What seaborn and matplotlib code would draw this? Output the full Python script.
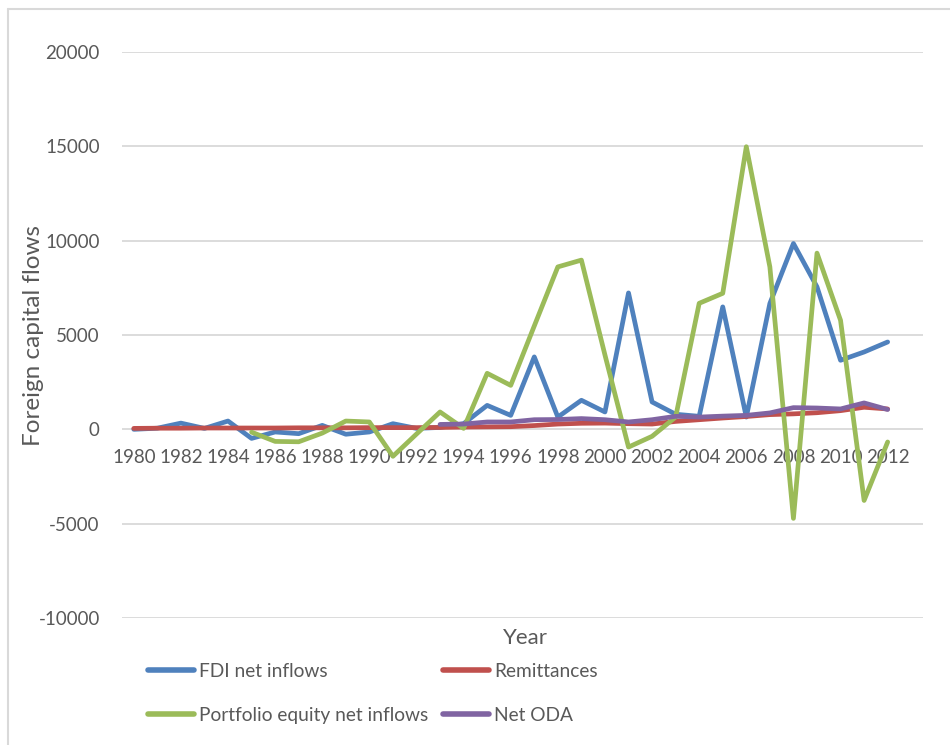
import numpy as np
import pandas as pd
import matplotlib
matplotlib.use("Agg")
import matplotlib.pyplot as plt
from matplotlib.lines import Line2D
import seaborn as sns

# data
years = list(range(1980, 2013))
fdi = [0, 60, 330, 50, 440, -480, -140, -230, 210, -260, -140, 300, 50, 100, 300,
       1270, 740, 3840, 650, 1540, 920, 7230, 1450, 800, 690, 6490, 650, 6670,
       9850, 7550, 3660, 4100, 4630]
remittances = [50, 60, 60, 70, 70, 70, 70, 80, 80, 80, 90, 90, 90, 100, 120, 130,
               140, 200, 280, 320, 330, 300, 280, 420, 510, 600, 680, 780, 820,
               880, 990, 1170, 1080]
portfolio = [np.nan] * 5 + [-150, -640, -660, -200, 440, 390, -1430, -250, 920, 50,
                            2970, 2330, 5480, 8610, 8970, 3940, -940, -370, 650,
                            6680, 7210, 14980, 8610, -4720, 9340, 5780, -3770, -670]
net_oda = [np.nan] * 13 + [260, 280, 390, 390, 510, 520, 570, 510, 390, 510, 690,
                           650, 700, 740, 870, 1150, 1130, 1080, 1400, 1050]

series = ["FDI net inflows", "Remittances", "Portfolio equity net inflows", "Net ODA"]
colors = ["#4F81BD", "#C0504D", "#9BBB59", "#8064A2"]

df = pd.DataFrame({"Year": years,
                   series[0]: fdi,
                   series[1]: remittances,
                   series[2]: portfolio,
                   series[3]: net_oda})
long = df.melt(id_vars="Year", var_name="series", value_name="value").dropna()

sns.set_style("white")
plt.rcParams["font.family"] = ["Lato", "DejaVu Sans"]
plt.rcParams["axes.unicode_minus"] = False
grey = "#595959"

fig = plt.figure(figsize=(9.5, 7.45), dpi=100)
ax = fig.add_axes([122 / 950, 1 - 618 / 745, 801 / 950, 566 / 745])

sns.lineplot(data=long, x="Year", y="value", hue="series", hue_order=series,
             palette=colors, linewidth=3.4, ax=ax, sort=True,
             solid_capstyle="round", solid_joinstyle="round")

ax.set_xlim(1979.5, 2013.5)
ax.set_ylim(-10000, 20000)
ax.set_yticks(range(-10000, 20001, 5000))
ax.set_xticks(range(1980, 2013, 2))
ax.set_xticklabels([str(y) for y in range(1980, 2013, 2)])
ax.grid(axis="y", color="#D9D9D9", linewidth=1.3)
ax.set_axisbelow(True)
for s in ax.spines.values():
    s.set_visible(False)
ax.spines["bottom"].set_position(("data", 0))
ax.tick_params(axis="x", length=0, pad=14, labelsize=13.5, labelcolor=grey)
ax.tick_params(axis="y", length=0, pad=16, labelsize=13.5, labelcolor=grey)

ax.set_ylabel("Foreign capital flows", fontsize=17.5, color=grey)
ax.yaxis.set_label_coords(-0.097, 0.5)
ax.set_xlabel("Year", fontsize=16, color=grey)
ax.xaxis.set_label_coords(0.504, -0.017)

handles, labels = ax.get_legend_handles_labels()
ax.get_legend().remove()
order = [0, 2, 1, 3]
leg = fig.legend([handles[i] for i in order], [labels[i] for i in order],
                 ncol=2, frameon=False, loc="center left",
                 bbox_to_anchor=(148 / 950, 1 - 693.5 / 745),
                 fontsize=13.8, handlelength=2.4, handletextpad=0.25,
                 columnspacing=0.8, labelspacing=1.4, borderpad=0, borderaxespad=0)
for t in leg.get_texts():
    t.set_color(grey)
for h in leg.get_lines():
    h.set_linewidth(4)
    h.set_solid_capstyle("round")

# chart frame (top and left edges visible)
fig.add_artist(Line2D([8 / 950, 8 / 950], [0, 1 - 9 / 745], transform=fig.transFigure,
                      color="#D9D9D9", linewidth=1.5))
fig.add_artist(Line2D([8 / 950, 1], [1 - 9 / 745, 1 - 9 / 745], transform=fig.transFigure,
                      color="#D9D9D9", linewidth=1.5))

fig.savefig("out.png", dpi=100)
